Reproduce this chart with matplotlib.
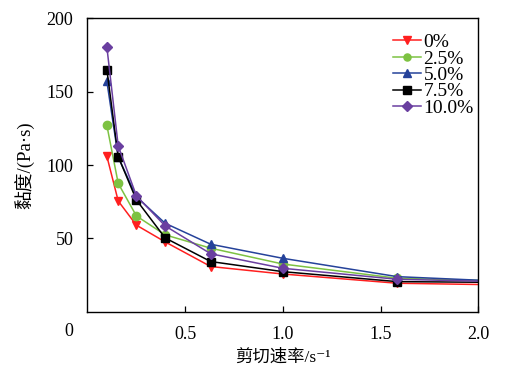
import numpy as np
import matplotlib
matplotlib.use("Agg")
import matplotlib.pyplot as plt

plt.rcParams['font.family'] = ['Liberation Serif', 'Noto Sans CJK SC', 'DejaVu Sans']

# shear rate (1/s)
shear_rate = [0.10, 0.158, 0.251, 0.398, 0.631, 1.0, 1.585, 2.512]

# viscosity (Pa·s) per additive content
labels = ['0%', '2.5%', '5.0%', '7.5%', '10.0%']
visc_0 = [106, 75.5, 59, 47.6, 30.8, 25.7, 19.4, 17.5]
visc_25 = [127, 87.5, 65.3, 52.4, 43.3, 32.5, 22.8, 19.5]
visc_50 = [157, 105.5, 78.4, 60.3, 46, 36.4, 23.9, 18.5]
visc_75 = [165, 105.7, 76.2, 50.3, 34.2, 27.3, 20.5, 19.6]
visc_100 = [180.5, 113, 79, 58.5, 39.5, 29.6, 22.1, 19.3]
series = [visc_0, visc_25, visc_50, visc_75, visc_100]

colors = ['#FF1F1F', '#7DC242', '#25429A', '#000000', '#6A3FA0']
markers = ['v', 'o', '^', 's', 'D']
msizes = [6, 6, 6, 6, 5.5]

fig = plt.figure(figsize=(5.05, 3.72), dpi=100)
ax = fig.add_axes([0.1729, 0.1621, 0.7746, 0.7884])

for y, lab, c, m, ms in zip(series, labels, colors, markers, msizes):
    ax.plot(shear_rate, y, color=c, marker=m, markersize=ms, linewidth=1.1,
            label=lab, markevery=list(range(len(shear_rate) - 1)))

ax.set_xlim(0, 2.0)
ax.set_ylim(0, 200)
ax.set_xticks([0.5, 1.0, 1.5, 2.0])
ax.set_xticklabels(['0.5', '1.0', '1.5', '2.0'])
ax.set_yticks([50, 100, 150, 200])
ax.tick_params(direction='in', length=4, width=0.9, labelsize=13, pad=10)
for s in ax.spines.values():
    s.set_linewidth(1.0)
fig.text(69 / 505, 1 - 332 / 372, '0', ha='center', va='center', fontsize=13)

ax.set_xlabel('剪切速率/s⁻¹', fontsize=12.5, labelpad=5)
ax.set_ylabel('黏度/(Pa·s)', fontsize=13.5, labelpad=8)

ax.legend(loc='upper left', bbox_to_anchor=(393 / 505, 1 - 33.5 / 372),
          bbox_transform=fig.transFigure, frameon=False, fontsize=14,
          borderpad=0, borderaxespad=0, labelspacing=-0.06, handlelength=1.45,
          handletextpad=0.12, markerscale=0.85)

fig.savefig('out.png', dpi=100)
